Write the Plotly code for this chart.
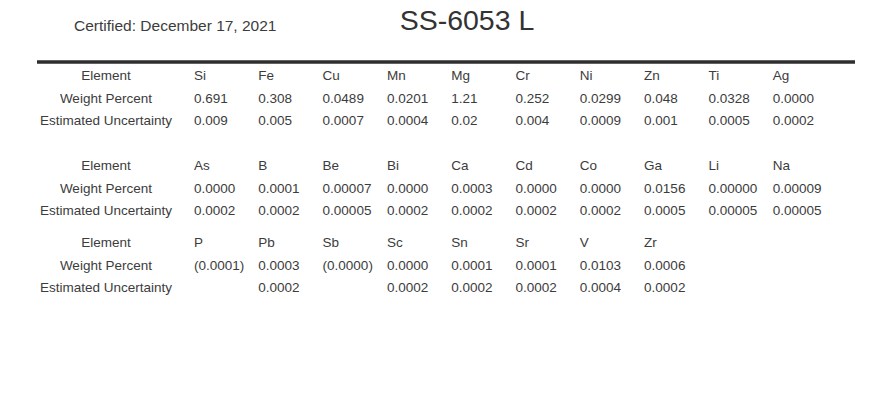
import plotly.graph_objects as go

# certificate data, one block per table row group
elements_1 = ["Si", "Fe", "Cu", "Mn", "Mg", "Cr", "Ni", "Zn", "Ti", "Ag"]
weight_1 = ["0.691", "0.308", "0.0489", "0.0201", "1.21", "0.252", "0.0299", "0.048", "0.0328", "0.0000"]
uncert_1 = ["0.009", "0.005", "0.0007", "0.0004", "0.02", "0.004", "0.0009", "0.001", "0.0005", "0.0002"]

elements_2 = ["As", "B", "Be", "Bi", "Ca", "Cd", "Co", "Ga", "Li", "Na"]
weight_2 = ["0.0000", "0.0001", "0.00007", "0.0000", "0.0003", "0.0000", "0.0000", "0.0156", "0.00000", "0.00009"]
uncert_2 = ["0.0002", "0.0002", "0.00005", "0.0002", "0.0002", "0.0002", "0.0002", "0.0005", "0.00005", "0.00005"]

elements_3 = ["P", "Pb", "Sb", "Sc", "Sn", "Sr", "V", "Zr"]
weight_3 = ["(0.0001)", "0.0003", "(0.0000)", "0.0000", "0.0001", "0.0001", "0.0103", "0.0006"]
uncert_3 = ["", "0.0002", "", "0.0002", "0.0002", "0.0002", "0.0004", "0.0002"]

row_labels = ["Element", "Weight Percent", "Estimated Uncertainty"]
title_text = "SS-6053 L"
certified_text = "Certified: December 17, 2021"

blocks = [
    (elements_1, weight_1, uncert_1),
    (elements_2, weight_2, uncert_2),
    (elements_3, weight_3, uncert_3),
]

# layout constants
W, H = 895, 414
FONT = "Liberation Sans, Arial, sans-serif"
TXT = "#3c3c3c"
BLOCK_OFFSET = [0, 4.0, 7.42]   # vertical start of each block, in row units
LABEL_X = -0.37                 # centre of the row-label column, in column units
TOP_ROW_PX = 77                 # pixel height of the first row
ROW_PX = 22.5                   # pixel height of one row
COL0_PX = 194                   # left edge of the first data column
COL_PX = 64.3                   # column pitch

fig = go.Figure()

for b, rows in enumerate(blocks):
    y0 = BLOCK_OFFSET[b]
    # row labels (centred)
    fig.add_trace(go.Scatter(
        x=[LABEL_X] * 3,
        y=[y0 + r for r in range(3)],
        mode="text",
        text=row_labels,
        textposition="middle center",
        textfont=dict(family=FONT, size=13.5, color=TXT),
        hoverinfo="skip",
        showlegend=False,
    ))
    # cells (left aligned at each column)
    for r, vals in enumerate(rows):
        fig.add_trace(go.Scatter(
            x=list(range(1, len(vals) + 1)),
            y=[y0 + r] * len(vals),
            mode="text",
            text=vals,
            textposition="middle right",
            textfont=dict(family=FONT, size=13.5, color=TXT),
            hoverinfo="skip",
            showlegend=False,
        ))

# thick rule under the header
fig.add_shape(
    type="line", xref="paper", yref="paper",
    x0=37 / W, x1=855 / W, y0=1 - 62 / H, y1=1 - 62 / H,
    line=dict(color="#2e2e2e", width=3.5),
)

fig.add_annotation(
    text=certified_text, xref="paper", yref="paper",
    x=72 / W, y=1 - 25 / H, xanchor="left", yanchor="middle",
    showarrow=False, font=dict(family=FONT, size=15.5, color=TXT),
)

fig.update_layout(
    title=dict(
        text=title_text, x=467 / W, xanchor="center",
        y=1 - 20 / H, yanchor="middle",
        font=dict(family=FONT, size=28.5, color="#333333"),
    ),
    width=W, height=H,
    margin=dict(l=0, r=0, t=0, b=0),
    plot_bgcolor="white",
    paper_bgcolor="white",
    xaxis=dict(range=[1 - COL0_PX / COL_PX, 1 + (W - COL0_PX) / COL_PX],
               visible=False, fixedrange=True),
    yaxis=dict(range=[(H - TOP_ROW_PX) / ROW_PX, -TOP_ROW_PX / ROW_PX],
               visible=False, fixedrange=True),
)

# drop the browser's default body margin so the figure sits at the page origin
fig.write_html("out.html", config={"displayModeBar": False},
               post_script="document.body.style.margin='0';")
